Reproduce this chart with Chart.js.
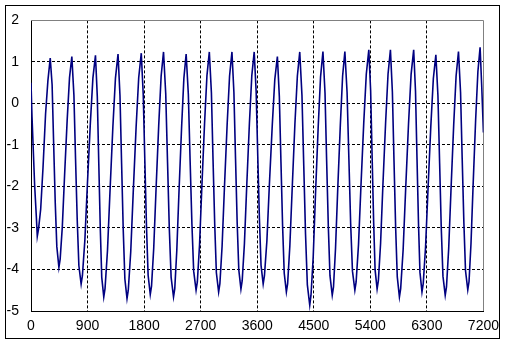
<!DOCTYPE html>
<html>
<head>
<meta charset="utf-8">
<script src="https://cdn.jsdelivr.net/npm/chart.js@4/dist/chart.umd.min.js"></script>
<style>
  html, body { margin: 0; padding: 0; background: #fff; }
  #wrap { width: 506px; height: 344px; }
</style>
</head>
<body>
<div id="wrap"><canvas id="c" width="506" height="344"></canvas></div>
<script>
const xTicks = [0, 900, 1800, 2700, 3600, 4500, 5400, 6300, 7200];
const yTicks = [2, 1, 0, -1, -2, -3, -4, -5];

const times = [
0,16,58,85,100,
120,154,191,232,269,306,336,361,386,411,444,
464,498,535,576,613,650,683,709,736,762,798,
818,857,898,944,985,1026,1055,1079,1103,1126,1158,
1178,1217,1258,1303,1344,1385,1416,1442,1468,1494,1528,
1548,1587,1628,1673,1714,1755,1786,1812,1838,1864,1898,
1918,1953,1991,2033,2071,2109,2144,2173,2201,2230,2268,
2288,2320,2356,2397,2433,2469,2504,2532,2561,2589,2627,
2647,2682,2720,2762,2800,2838,2871,2897,2924,2950,2986,
3006,3041,3079,3122,3160,3198,3229,3255,3281,3307,3341,
3361,3396,3434,3476,3514,3552,3583,3609,3635,3661,3695,
3715,3754,3794,3840,3880,3921,3952,3978,4004,4030,4064,
4084,4119,4158,4200,4239,4277,4312,4341,4369,4398,4436,
4456,4491,4528,4570,4608,4646,4679,4705,4732,4758,4794,
4814,4846,4882,4923,4959,4995,5030,5059,5087,5116,5154,
5174,5212,5252,5296,5336,5376,5405,5429,5453,5476,5508,
5528,5563,5601,5644,5682,5720,5751,5777,5803,5829,5863,
5883,5922,5963,6008,6049,6090,6119,6143,6167,6190,6222,
6242,6279,6319,6363,6403,6443,6476,6503,6529,6556,6592,
6612,6647,6685,6727,6765,6803,6836,6862,6889,6915,6951,
6971,7002,7037,7076,7112,7147,7172,7200
];

const values = [
0.50,-0.32,-1.97,-2.73,-3.20,
-3.02,-2.55,-1.55,-0.25,0.55,1.09,0.45,-1.00,-2.40,-3.45,-3.95,
-3.75,-2.98,-1.71,-0.39,0.62,1.13,0.20,-1.34,-2.82,-3.91,-4.35,
-4.15,-3.30,-1.93,-0.49,0.61,1.16,0.17,-1.46,-3.03,-4.19,-4.66,
-4.46,-3.55,-2.09,-0.56,0.61,1.19,0.19,-1.46,-3.05,-4.23,-4.70,
-4.50,-3.58,-2.10,-0.56,0.62,1.21,0.22,-1.40,-2.97,-4.14,-4.60,
-4.40,-3.49,-2.03,-0.51,0.66,1.24,0.24,-1.42,-3.01,-4.19,-4.66,
-4.46,-3.55,-2.09,-0.56,0.61,1.19,0.22,-1.37,-2.91,-4.04,-4.50,
-4.30,-3.41,-1.97,-0.48,0.67,1.24,0.26,-1.36,-2.92,-4.08,-4.54,
-4.34,-3.44,-2.00,-0.49,0.66,1.24,0.27,-1.33,-2.87,-4.01,-4.47,
-4.27,-3.39,-1.96,-0.47,0.67,1.24,0.29,-1.28,-2.78,-3.90,-4.35,
-4.15,-3.31,-1.94,-0.51,0.58,1.13,0.17,-1.42,-2.95,-4.09,-4.54,
-4.34,-3.44,-2.00,-0.49,0.66,1.24,0.20,-1.51,-3.15,-4.37,-4.86,
-4.62,-3.70,-2.17,-0.58,0.64,1.25,0.25,-1.39,-2.98,-4.15,-4.62,
-4.42,-3.50,-2.04,-0.51,0.66,1.25,0.27,-1.34,-2.89,-4.04,-4.50,
-4.30,-3.40,-1.95,-0.45,0.71,1.29,0.31,-1.30,-2.86,-4.01,-4.47,
-4.27,-3.38,-1.94,-0.44,0.71,1.29,0.28,-1.39,-2.99,-4.18,-4.66,
-4.46,-3.53,-2.04,-0.49,0.70,1.29,0.30,-1.33,-2.91,-4.07,-4.54,
-4.34,-3.46,-2.03,-0.54,0.60,1.17,0.19,-1.44,-3.00,-4.16,-4.62,
-4.42,-3.50,-2.04,-0.51,0.66,1.25,0.27,-1.33,-2.88,-4.03,-4.49,
-4.29,-3.38,-1.92,-0.40,0.77,1.35,0.45,-0.70
];

const points = times.map((t, i) => ({ x: t, y: values[i] }));

const tickFont = { family: '"Liberation Sans Narrow", "Liberation Sans", sans-serif', size: 14 };

const edgeColor = (lo, hi) => (ctx) => {
  const v = ctx.tick ? ctx.tick.value : null;
  return (v === lo || v === hi) ? 'rgba(0,0,0,0)' : '#000000';
};

const framePlugin = {
  id: 'frame',
  beforeDraw(chart) {
    const ctx = chart.ctx;
    ctx.save();
    ctx.fillStyle = '#ffffff';
    ctx.fillRect(0, 0, chart.width, chart.height);
    ctx.restore();
  },
  beforeDatasetsDraw(chart) {
    const { ctx, chartArea: a } = chart;
    ctx.save();
    ctx.strokeStyle = '#808080';
    ctx.lineWidth = 1;
    ctx.beginPath();
    ctx.moveTo(a.left, Math.round(a.top) + 0.5);
    ctx.lineTo(Math.round(a.right) + 0.5, Math.round(a.top) + 0.5);
    ctx.lineTo(Math.round(a.right) + 0.5, a.bottom);
    ctx.stroke();
    ctx.restore();
  },
  afterDraw(chart) {
    const ctx = chart.ctx;
    ctx.save();
    ctx.strokeStyle = '#000000';
    ctx.lineWidth = 1;
    ctx.strokeRect(5.5, 5.5, 494, 333);
    ctx.restore();
  }
};

new Chart(document.getElementById('c'), {
  type: 'scatter',
  data: {
    datasets: [{
      data: points,
      showLine: true,
      borderColor: '#000080',
      backgroundColor: '#000080',
      borderWidth: 1.6,
      pointRadius: 0,
      tension: 0
    }]
  },
  options: {
    responsive: false,
    animation: false,
    devicePixelRatio: 1,
    layout: { padding: { left: 0, right: 21, top: 15, bottom: 0 } },
    plugins: { legend: { display: false }, tooltip: { enabled: false } },
    scales: {
      x: {
        type: 'linear',
        min: 0, max: 7200,
        afterBuildTicks: (s) => { s.ticks = xTicks.map(v => ({ value: v })); },
        afterFit: (s) => { s.height = 33; },
        ticks: { color: '#000', font: tickFont, padding: 7, maxRotation: 0, autoSkip: false,
                 callback: (v) => String(v) },
        grid: { color: edgeColor(0, 7200), lineWidth: 1, drawTicks: false },
        border: { display: true, color: '#000', width: 1, dash: [3, 2] }
      },
      y: {
        type: 'linear',
        min: -5, max: 2,
        afterBuildTicks: (s) => { s.ticks = yTicks.map(v => ({ value: v })); },
        afterFit: (s) => { s.width = 31; },
        ticks: { color: '#000', font: tickFont, padding: 12, autoSkip: false,
                 callback: (v) => String(v) },
        grid: { color: edgeColor(-5, 2), lineWidth: 1, drawTicks: false },
        border: { display: true, color: '#000', width: 1, dash: [3, 2] }
      }
    }
  },
  plugins: [framePlugin]
});
</script>
</body>
</html>
